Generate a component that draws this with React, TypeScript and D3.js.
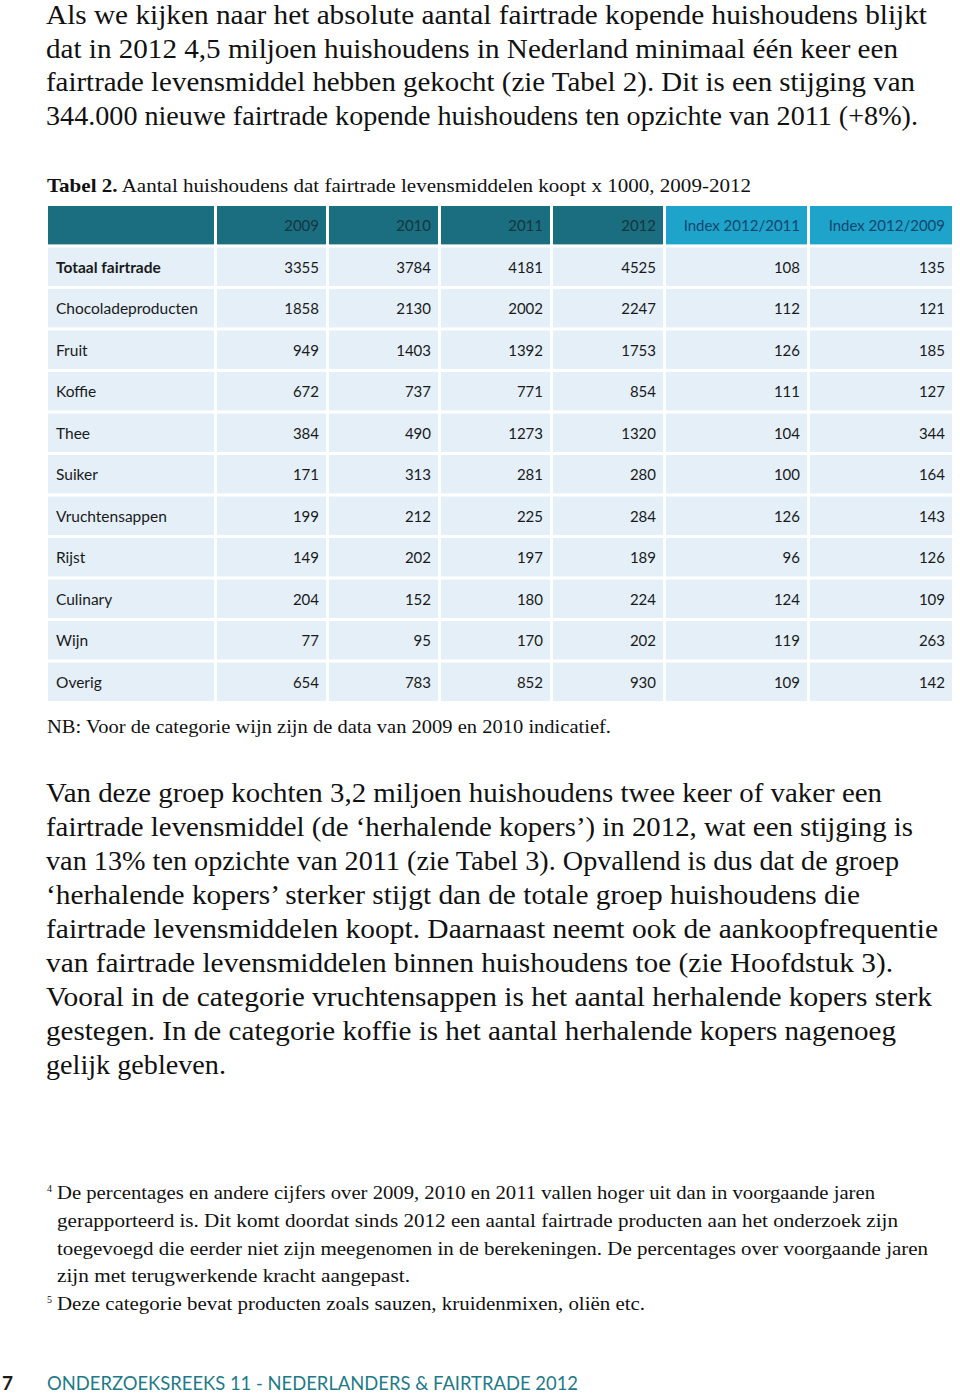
import React from "react";
import * as d3 from "d3";

const introLines = [
  "Als we kijken naar het absolute aantal fairtrade kopende huishoudens blijkt",
  "dat in 2012 4,5 miljoen huishoudens in Nederland minimaal één keer een",
  "fairtrade levensmiddel hebben gekocht (zie Tabel 2). Dit is een stijging van",
  "344.000 nieuwe fairtrade kopende huishoudens ten opzichte van 2011 (+8%).",
];
const introWidths = [881, 852, 869, 872];

const bodyLines = [
  "Van deze groep kochten 3,2 miljoen huishoudens twee keer of vaker een",
  "fairtrade levensmiddel (de ‘herhalende kopers’) in 2012, wat een stijging is",
  "van 13% ten opzichte van 2011 (zie Tabel 3). Opvallend is dus dat de groep",
  "‘herhalende kopers’ sterker stijgt dan de totale groep huishoudens die",
  "fairtrade levensmiddelen koopt. Daarnaast neemt ook de aankoopfrequentie",
  "van fairtrade levensmiddelen binnen huishoudens toe (zie Hoofdstuk 3).",
  "Vooral in de categorie vruchtensappen is het aantal herhalende kopers sterk",
  "gestegen. In de categorie koffie is het aantal herhalende kopers nagenoeg",
  "gelijk gebleven.",
];
const bodyWidths = [836, 867, 853, 814, 892, 847, 886, 850, 180];

const footLines = [
  { sup: "4", text: "De percentages en andere cijfers over 2009, 2010 en 2011 vallen hoger uit dan in voorgaande jaren", w: 818 },
  { sup: "", text: "gerapporteerd is. Dit komt doordat sinds 2012 een aantal fairtrade producten aan het onderzoek zijn", w: 841 },
  { sup: "", text: "toegevoegd die eerder niet zijn meegenomen in de berekeningen. De percentages over voorgaande jaren", w: 871 },
  { sup: "", text: "zijn met terugwerkende kracht aangepast.", w: 353 },
  { sup: "5", text: "Deze categorie bevat producten zoals sauzen, kruidenmixen, oliën etc.", w: 588 },
];

const columns = ["", "2009", "2010", "2011", "2012", "Index 2012/2011", "Index 2012/2009"];
const columnWidths = [166, 109, 109, 109, 110, 141, 142];

const categories = [
  "Totaal fairtrade",
  "Chocoladeproducten",
  "Fruit",
  "Koffie",
  "Thee",
  "Suiker",
  "Vruchtensappen",
  "Rijst",
  "Culinary",
  "Wijn",
  "Overig",
];
const v2009 = [3355, 1858, 949, 672, 384, 171, 199, 149, 204, 77, 654];
const v2010 = [3784, 2130, 1403, 737, 490, 313, 212, 202, 152, 95, 783];
const v2011 = [4181, 2002, 1392, 771, 1273, 281, 225, 197, 180, 170, 852];
const v2012 = [4525, 2247, 1753, 854, 1320, 280, 284, 189, 224, 202, 930];
const idx1211 = [108, 112, 126, 111, 104, 100, 126, 96, 124, 119, 109];
const idx1209 = [135, 121, 185, 127, 344, 164, 143, 126, 109, 263, 142];

const SERIF = "'Liberation Serif', 'Times New Roman', serif";
const SANS = "Lato, 'Noto Sans', sans-serif";
const TEAL = "#1a6e7f";
const CYAN = "#1ea3cb";
const ROWBG = "#e4eff8";

export default function App() {
  const rowKeys = ["__header__", ...categories];
  const y = d3.scaleBand<string>().domain(rowKeys).range([206, 701]).paddingInner(0.075);

  const gap = 3;
  const colX: number[] = [];
  let acc = 48;
  columnWidths.forEach((w) => {
    colX.push(acc);
    acc += w + gap;
  });

  const series = [v2009, v2010, v2011, v2012, idx1211, idx1209];

  const introY = d3.scaleLinear().domain([0, 1]).range([24, 57.5]);
  const bodyY = d3.scaleLinear().domain([0, 1]).range([802, 836]);
  const footY = d3.scaleLinear().domain([0, 1]).range([1199, 1226.8]);

  const bw = y.bandwidth();

  return (
    <svg
      width={960}
      height={1394}
      style={{ position: "absolute", left: 0, top: 0, background: "#fff" }}
    >
      <rect width={960} height={1394} fill="#fff" />
      {introLines.map((t, i) => (
        <text
          key={"i" + i}
          x={46}
          y={introY(i)}
          fontFamily={SERIF}
          fontSize={26.5}
          fill="#111"
          textLength={introWidths[i]}
          lengthAdjust="spacingAndGlyphs"
        >
          {t}
        </text>
      ))}

      <text
        x={47}
        y={192}
        fontFamily={SERIF}
        fontSize={19}
        fill="#111"
        textLength={704}
        lengthAdjust="spacingAndGlyphs"
      >
        <tspan fontWeight="bold">Tabel 2.</tspan>
        <tspan> Aantal huishoudens dat fairtrade levensmiddelen koopt x 1000, 2009-2012</tspan>
      </text>

      {columns.map((c, j) => (
        <g key={"h" + j}>
          <rect
            x={colX[j]}
            y={y("__header__")!}
            width={columnWidths[j]}
            height={bw}
            fill={j >= 5 ? CYAN : TEAL}
          />
          {c && (
            <text
              x={colX[j] + columnWidths[j] - 7}
              y={y("__header__")! + bw / 2 + 6}
              textAnchor="end"
              fontFamily={SANS}
              fontSize={15}
              fill={j >= 5 ? "#17466b" : "#15363f"}
            >
              {c}
            </text>
          )}
        </g>
      ))}

      {categories.map((cat, i) => {
        const ry = y(cat)!;
        return (
          <g key={"r" + i}>
            {columnWidths.map((w, j) => (
              <rect key={j} x={colX[j]} y={ry} width={w} height={bw} fill={ROWBG} />
            ))}
            <text
              x={56}
              y={ry + bw / 2 + 6}
              fontFamily={SANS}
              fontSize={15.5}
              fontWeight={i === 0 ? "bold" : "normal"}
              fill="#1a1a1a"
            >
              {cat}
            </text>
            {series.map((s, j) => (
              <text
                key={j}
                x={colX[j + 1] + columnWidths[j + 1] - 7}
                y={ry + bw / 2 + 6}
                textAnchor="end"
                fontFamily={SANS}
                fontSize={15}
                fill="#1a1a1a"
              >
                {s[i]}
              </text>
            ))}
          </g>
        );
      })}

      <text
        x={47}
        y={733}
        fontFamily={SERIF}
        fontSize={19}
        fill="#111"
        textLength={564}
        lengthAdjust="spacingAndGlyphs"
      >
        NB: Voor de categorie wijn zijn de data van 2009 en 2010 indicatief.
      </text>

      {bodyLines.map((t, i) => (
        <text
          key={"b" + i}
          x={46}
          y={bodyY(i)}
          fontFamily={SERIF}
          fontSize={26.5}
          fill="#111"
          textLength={bodyWidths[i]}
          lengthAdjust="spacingAndGlyphs"
        >
          {t}
        </text>
      ))}

      {footLines.map((f, i) => (
        <g key={"f" + i}>
          {f.sup && (
            <text x={47} y={footY(i) - 7} fontFamily={SERIF} fontSize={10} fill="#111">
              {f.sup}
            </text>
          )}
          <text
            x={57}
            y={footY(i)}
            fontFamily={SERIF}
            fontSize={18}
            fill="#111"
            textLength={f.w}
            lengthAdjust="spacingAndGlyphs"
          >
            {f.text}
          </text>
        </g>
      ))}

      <text x={2} y={1390} fontFamily={SANS} fontSize={19} fontWeight="bold" fill="#1a1a1a">
        7
      </text>
      <text
        x={47}
        y={1390}
        fontFamily={SANS}
        fontSize={19}
        fill="#1f7a88"
        textLength={531}
        lengthAdjust="spacingAndGlyphs"
      >
        ONDERZOEKSREEKS 11 - NEDERLANDERS &amp; FAIRTRADE 2012
      </text>
    </svg>
  );
}
